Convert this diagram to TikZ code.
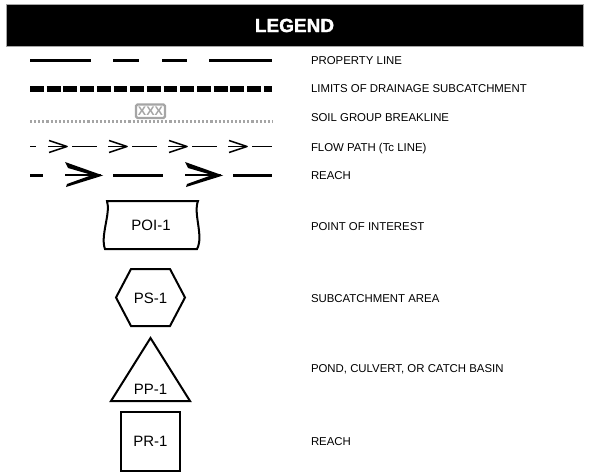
\documentclass[tikz,border=0pt]{standalone}
\usepackage{fontspec}
\setmainfont{Liberation Sans}
\definecolor{soilgrey}{RGB}{165,165,165}

\begin{document}
\begin{tikzpicture}[x=1pt, y=-1pt, line width=2pt,
    legtext/.style={anchor=base west, inner sep=0pt, font=\fontsize{11.4}{13}\selectfont},
    symtext/.style={inner sep=0pt, font=\fontsize{15}{18}\selectfont}]

    % comandi per le frecce delle linee
    \newcommand{\flowtip}[2]{
        \draw (#1, #2) -- (#1+19, #2);
        \draw[line join=round, line width=1.5pt] (#1+1, #2-6) -- (#1+19, #2) -- (#1+1, #2+6);
    }
    \newcommand{\reachtip}[2]{
        \draw[line width=2.6pt] (#1, #2) -- (#1+36, #2);
        \fill (#1, #2-13) -- (#1+38, #2+0.5) -- (#1+1, #2+12) -- (#1+2, #2+9)
              -- (#1+27, #2) -- (#1+3, #2-7) -- cycle;
    }

    \useasboundingbox (0,0) rectangle (589,476);

    % -- Intestazione --
    \draw[draw=black!35, line width=0.8pt, fill=black] (6,4.5) rectangle (583,46);
    \node[text=white, font=\fontsize{19}{22}\selectfont\bfseries\addfontfeature{FakeBold=1.6}]
        (title) at (294.5,25.5) {LEGEND};

    % -- Property line --
    \draw[line width=2.4pt] (30,60.5) -- (91,60.5) (113,60.5) -- (139,60.5)
                            (162,60.5) -- (187,60.5) (209,60.5) -- (272,60.5);
    \node[legtext] (propline) at (310,64.7) {PROPERTY LINE};

    % -- Limiti del sottobacino --
    \draw[line width=6.5pt, dash pattern=on 13.8pt off 2.9pt] (30,89) -- (272,89);
    \node[legtext] (limits) at (310,93) {LIMITS OF DRAINAGE SUBCATCHMENT};

    % -- Soil group --
    \draw[soilgrey, line width=2.1pt, dash pattern=on 2.1pt off 2pt] (30,121.5) -- (272,121.5);
    \draw[soilgrey, line width=2.2pt, rounded corners=1.5pt, fill=white] (136,104.5) rectangle (165,118);
    \node[text=soilgrey, font=\fontsize{12.5}{12.5}\selectfont\bfseries] (soiltag) at (150.5,111.3) {XXX};
    \node[legtext] (soil) at (310,122) {SOIL GROUP BREAKLINE};

    % -- Flow path (Tc) --
    \begin{scope}[line width=1.3pt]
        \draw (30,146.5) -- (36,146.5);
        \foreach \x in {48,108,168,228} {
            \flowtip{\x}{146.5}
        }
        \draw (72,146.5) -- (97,146.5) (132,146.5) -- (157,146.5)
              (192,146.5) -- (217,146.5) (252,146.5) -- (272,146.5);
    \end{scope}
    \node[legtext] (flow) at (310,151) {FLOW PATH (Tc LINE)};

    % -- Reach --
    \begin{scope}[line width=3pt]
        \draw (30,175) -- (43,175);
        \reachtip{65}{175}
        \reachtip{185}{175}
        \draw (113,175) -- (163,175) (233,175) -- (272,175);
    \end{scope}
    \node[legtext] (reachline) at (310,179) {REACH};

    % -- Simboli --
    \draw (107,201) -- (198,201)
          .. controls (193,214) and (204,236) .. (197,249) -- (105,249)
          .. controls (100,236) and (111,213) .. (107,201) -- cycle;
    \node[symtext] (poi) at (151,225.5) {POI-1};
    \node[legtext] (poitext) at (310,230) {POINT OF INTEREST};

    \draw (131,269) -- (170,269) -- (185,297.5) -- (170,326) -- (131,326) -- (116,297.5) -- cycle;
    \node[symtext] (ps) at (150.5,298.5) {PS-1};
    \node[legtext] (pstext) at (310,302) {SUBCATCHMENT AREA};

    \draw (150.5,338) -- (190,401) -- (111,401) -- cycle;
    \node[symtext] (pp) at (150.5,389) {PP-1};
    \node[legtext] (pptext) at (310,372) {POND, CULVERT, OR CATCH BASIN};

    \draw (121,412) rectangle (180,471);
    \node[symtext] (pr) at (150.5,441.5) {PR-1};
    \node[legtext] (prtext) at (310,445) {REACH};

\end{tikzpicture}
\end{document}
